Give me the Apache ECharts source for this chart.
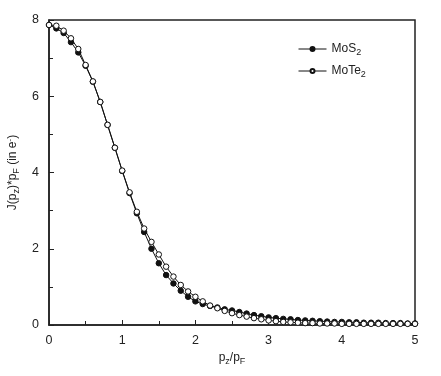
<!DOCTYPE html>
<html>
<head>
<meta charset="utf-8">
<script src="https://cdn.jsdelivr.net/npm/echarts@6/dist/echarts.min.js"></script>
<style>
  html, body { margin: 0; padding: 0; background: #fff; }
  #main { width: 441px; height: 376px; }
</style>
</head>
<body>
<div id="main"></div>
<script>
// p_z / p_F grid
const pz = [
  0.0, 0.1, 0.2, 0.3, 0.4, 0.5, 0.6, 0.7, 0.8, 0.9,
  1.0, 1.1, 1.2, 1.3, 1.4, 1.5, 1.6, 1.7, 1.8, 1.9,
  2.0, 2.1, 2.2, 2.3, 2.4, 2.5, 2.6, 2.7, 2.8, 2.9,
  3.0, 3.1, 3.2, 3.3, 3.4, 3.5, 3.6, 3.7, 3.8, 3.9,
  4.0, 4.1, 4.2, 4.3, 4.4, 4.5, 4.6, 4.7, 4.8, 4.9, 5.0
];

// J(pz)*pF, MoS2 (filled)
const mos2 = [
  7.87, 7.78, 7.66, 7.42, 7.15, 6.80, 6.38, 5.85, 5.25, 4.65,
  4.04, 3.46, 2.93, 2.44, 2.00, 1.62, 1.31, 1.09, 0.90, 0.74,
  0.62, 0.55, 0.50, 0.46, 0.41, 0.38, 0.34, 0.30, 0.26, 0.23,
  0.20, 0.18, 0.16, 0.15, 0.13, 0.12, 0.11, 0.10, 0.09, 0.08,
  0.08, 0.07, 0.07, 0.06, 0.06, 0.06, 0.05, 0.05, 0.05, 0.04, 0.04
];

// J(pz)*pF, MoTe2 (open)
const mote2 = [
  7.87, 7.85, 7.72, 7.52, 7.24, 6.82, 6.39, 5.85, 5.25, 4.65,
  4.05, 3.48, 2.97, 2.53, 2.18, 1.85, 1.53, 1.27, 1.05, 0.88,
  0.74, 0.62, 0.51, 0.44, 0.37, 0.31, 0.26, 0.22, 0.18, 0.15,
  0.12, 0.10, 0.08, 0.07, 0.06, 0.05, 0.05, 0.04, 0.04, 0.04,
  0.03, 0.03, 0.03, 0.03, 0.03, 0.03, 0.03, 0.03, 0.03, 0.03, 0.03
];

const chart = echarts.init(document.getElementById("main"));

const font = "Liberation Sans, Arial, sans-serif";
const sub = { fontSize: 9, fontFamily: font, color: "#222", padding: [7, 0, 0, 0] };
const sup = { fontSize: 8, fontFamily: font, color: "#222", padding: [0, 0, 7, 0] };
const base = { fontSize: 12, fontFamily: font, color: "#222" };

const option = {
  backgroundColor: "#fff",
  animation: false,
  grid: {
    left: 49, right: 26, top: 20, bottom: 51,
    outerBoundsMode: "none",
    show: true, borderColor: "#222", borderWidth: 1.5
  },
  legend: {
    orient: "vertical",
    left: 293, top: 38,
    itemWidth: 28, itemHeight: 5, itemGap: 8,
    lineStyle: { width: 1 },
    textStyle: {
      fontSize: 12, fontFamily: font, color: "#222",
      rich: { a: base, s: sub }
    },
    formatter: name => name === "MoS2" ? "{a|MoS}{s|2}" : "{a|MoTe}{s|2}",
    data: ["MoS2", "MoTe2"]
  },
  xAxis: {
    type: "value",
    min: 0, max: 5, interval: 1,
    name: "{a|p}{s|z}{a|/p}{s|F}",
    nameLocation: "middle",
    nameGap: 22,
    nameTextStyle: { rich: { a: base, s: sub } },
    axisLine: { lineStyle: { color: "#222", width: 1.5 } },
    axisTick: { inside: true, length: 5, lineStyle: { color: "#222" } },
    minorTick: { show: true, splitNumber: 2, length: 4, lineStyle: { color: "#222" } },
    axisLabel: { fontSize: 12.5, fontFamily: font, color: "#222", margin: 9 },
    splitLine: { show: false }
  },
  yAxis: {
    type: "value",
    min: 0, max: 8, interval: 2,
    name: "{a|J(p}{s|z}{a|)*p}{s|F}{a| (in e}{p|-}{a|)}",
    nameLocation: "middle",
    nameRotate: 90,
    nameGap: 24,
    nameTextStyle: { rich: { a: base, s: sub, p: sup } },
    axisLine: { lineStyle: { color: "#222", width: 1.5 } },
    axisTick: { inside: true, length: 5, lineStyle: { color: "#222" } },
    minorTick: { show: true, splitNumber: 2, length: 4, lineStyle: { color: "#222" } },
    axisLabel: { fontSize: 12.5, fontFamily: font, color: "#222", margin: 10 },
    splitLine: { show: false }
  },
  series: [
    {
      name: "MoS2",
      type: "line",
      data: pz.map((x, i) => [x, mos2[i]]),
      symbol: "circle",
      symbolSize: 5.5,
      lineStyle: { color: "#111", width: 1 },
      itemStyle: { color: "#111", borderColor: "#111", borderWidth: 1 }
    },
    {
      name: "MoTe2",
      type: "line",
      data: pz.map((x, i) => [x, mote2[i]]),
      symbol: "circle",
      symbolSize: 5.5,
      lineStyle: { color: "#111", width: 1 },
      itemStyle: { color: "#fff", borderColor: "#111", borderWidth: 1 }
    }
  ]
};

chart.setOption(option);
</script>
</body>
</html>
